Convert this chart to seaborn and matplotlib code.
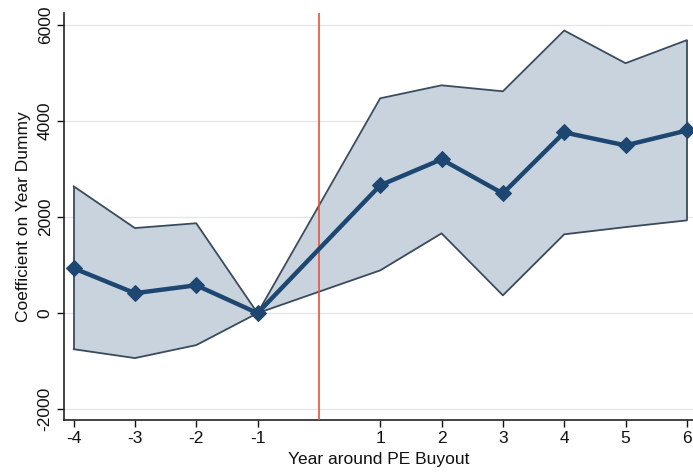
import matplotlib
matplotlib.use("Agg")
import matplotlib.pyplot as plt
import seaborn as sns
import pandas as pd

# Event-study estimates around the PE buyout year (year 0 omitted)
years = [-4, -3, -2, -1, 1, 2, 3, 4, 5, 6]
coef = [935, 415, 580, 0, 2660, 3200, 2490, 3760, 3490, 3800]
ci_upper = [2640, 1770, 1870, 0, 4470, 4740, 4615, 5880, 5200, 5680]
ci_lower = [-750, -935, -665, 0, 890, 1660, 370, 1640, 1790, 1930]
xtick_labels = ["-4", "-3", "-2", "-1", "1", "2", "3", "4", "5", "6"]
ytick_values = [-2000, 0, 2000, 4000, 6000]

df = pd.DataFrame({"year": years, "coef": coef, "lo": ci_lower, "hi": ci_upper})

sns.set_theme(style="white")
plt.rcParams["font.family"] = ["Liberation Sans", "DejaVu Sans"]

fig = plt.figure(figsize=(6.93, 4.72), dpi=100)
ax = fig.add_axes([0.092, 0.11, 0.908, 0.862])

for y in ytick_values:
    ax.axhline(y, color="#e6e6e6", lw=1.0, zorder=0)

ax.fill_between(df["year"], df["lo"], df["hi"], color="#c9d3de", zorder=1, lw=0)
ax.plot(df["year"], df["hi"], color="#3b4b5e", lw=1.3, zorder=2)
ax.plot(df["year"], df["lo"], color="#3b4b5e", lw=1.3, zorder=2)
ax.vlines([years[0], years[-1]], [ci_lower[0], ci_lower[-1]], [ci_upper[0], ci_upper[-1]],
          color="#3b4b5e", lw=1.3, zorder=2)

ax.axvline(0, color="#e5523f", lw=1.2, zorder=3)

sns.lineplot(data=df, x="year", y="coef", ax=ax, color="#1d4771", lw=3.2,
             marker="D", markersize=8, markeredgecolor="#1d4771", zorder=4)

ax.set_xlim(-4.16, 6.1)
ax.set_ylim(-2225, 6240)
ax.set_xticks(years)
ax.set_xticklabels(xtick_labels)
ax.set_yticks(ytick_values)
ax.set_yticklabels([str(v) for v in ytick_values], rotation=90, va="center")

ax.set_xlabel("Year around PE Buyout", fontsize=12.5, labelpad=4, color="#111111")
ax.set_ylabel("Coefficient on Year Dummy", fontsize=12.5, labelpad=5, color="#111111")
ax.tick_params(axis="both", labelsize=12.5, colors="#111111", length=5, width=1,
               direction="out", bottom=True, left=True, pad=3)

for side in ["top", "right"]:
    ax.spines[side].set_visible(False)
for side in ["left", "bottom"]:
    ax.spines[side].set_color("#222222")
    ax.spines[side].set_linewidth(1.2)

fig.savefig("out.png", dpi=100)
